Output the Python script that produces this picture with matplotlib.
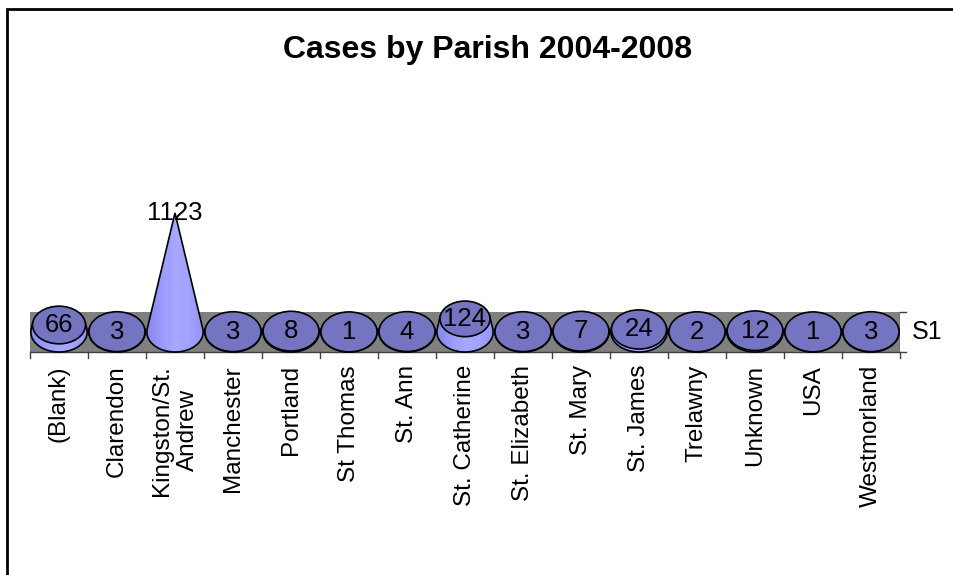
import numpy as np
import matplotlib as mpl

mpl.use('agg')

import matplotlib.pyplot as plt
from matplotlib.patches import Ellipse, Polygon, Rectangle
from matplotlib.colors import LinearSegmentedColormap

plt.rcParams['font.family'] = ['Liberation Sans', 'DejaVu Sans']

title = "Cases by Parish 2004-2008"
series_name = "S1"
parishes = ['(Blank)', 'Clarendon', 'Kingston/St.\nAndrew', 'Manchester', 'Portland',
            'St Thomas', 'St. Ann', 'St. Catherine', 'St. Elizabeth', 'St. Mary',
            'St. James', 'Trelawny', 'Unknown', 'USA', 'Westmorland']
cases = [66, 3, 1123, 3, 8, 1, 4, 124, 3, 7, 24, 2, 12, 1, 3]

# layout in pixels of the 954x575 picture
W, H = 954, 575
left_px, right_px = 30, 900
top_px, bottom_px = 200, 360
base_px = 332          # centre line of the cone bases
apex_px = 213          # tip of the tallest cone
half_band_px = 20

vmax = max(cases)
k = vmax / float(base_px - apex_px)   # value units per pixel
b = half_band_px * k                  # semi-height of base ellipse (value units)
a = 0.485                             # semi-width of base ellipse (category units)
n = len(parishes)

fig = plt.figure(figsize=(W / 100.0, H / 100.0), dpi=100)
ax = fig.add_axes([left_px / W, (H - bottom_px) / H,
                   (right_px - left_px) / W, (bottom_px - top_px) / H])
ax.set_xlim(-0.5, n - 0.5)
ax.set_ylim(-(bottom_px - base_px) * k, (base_px - top_px) * k)
ax.axis('off')

# grey floor band
ax.add_patch(Rectangle((-0.5, -b), n, 2 * b, facecolor='#808080',
                       edgecolor='none', zorder=1))
ax.plot([-0.5, n - 0.5], [-b, -b], color='#404040', lw=1, zorder=1.5)
for t in np.arange(-0.5, n, 1.0):
    ax.plot([t, t], [-b, -b - 6 * k], color='#404040', lw=1, zorder=1.5, clip_on=False)
# series axis on the right
ax.plot([n - 0.5, n - 0.5], [-b, b], color='#404040', lw=1, zorder=1.5)
for yy in (-b, b):
    ax.plot([n - 0.5, n - 0.5 + 6.0 / 58], [yy, yy], color='#404040', lw=1,
            zorder=1.5, clip_on=False)

side_cmap = LinearSegmentedColormap.from_list(
    'side', ['#8888ee', '#9a9afc', '#a8a8ff', '#a2a2ff', '#9494f8'])
grad = np.linspace(0, 1, 64).reshape(1, -1)

Hn = vmax / b
alpha = np.arccos(1.0 / Hn)
phis = np.linspace(np.pi / 2 + alpha, np.pi / 2 - alpha + 2 * np.pi, 80)

for i, v in enumerate(cases):
    z = 2 + i
    s = 1.0 - v / float(vmax)
    bx = i + a * np.cos(phis)
    by = b * np.sin(phis)
    tl = (i + s * (bx[0] - i), vmax + s * (by[0] - vmax))
    tr = (i + s * (bx[-1] - i), vmax + s * (by[-1] - vmax))
    pts = list(zip(bx, by)) + [tr, tl]
    side = Polygon(pts, closed=True, facecolor='none', edgecolor='black',
                   lw=1.2, zorder=z + 0.3)
    ax.add_patch(side)
    im = ax.imshow(grad, cmap=side_cmap, aspect='auto', interpolation='bilinear',
                   extent=[i - a, i + a, -b, vmax], zorder=z)
    im.set_clip_path(side)
    if s > 0:
        ax.add_patch(Ellipse((i, v), 2 * a * s, 2 * b * s, facecolor='#7474c0',
                             edgecolor='black', lw=1.2, zorder=z + 0.6))
    ax.text(i, v, str(v), ha='center', va='center', fontsize=18.5, zorder=50)

ax.set_xlim(-0.5, n - 0.5)
ax.set_ylim(-(bottom_px - base_px) * k, (base_px - top_px) * k)

label_y = -(365 - base_px) * k
for i, name in enumerate(parishes):
    ax.text(i, label_y, name, rotation=90, ha='center', va='top',
            multialignment='center', fontsize=17.5, linespacing=1.2)

ax.text(n - 0.5 + 12.0 / 58, 0, series_name, ha='left', va='center', fontsize=18)

fig.text(488.0 / W, 1 - 50.0 / H, title, ha='center', va='center',
         fontsize=23, fontweight='bold')

# chart frame
fig.patches.append(Rectangle((7.0 / W, -0.1), 1.1, 1 - 9.0 / H + 0.1,
                             transform=fig.transFigure, fill=False,
                             edgecolor='black', lw=2))

fig.savefig('out.png', dpi=100)
